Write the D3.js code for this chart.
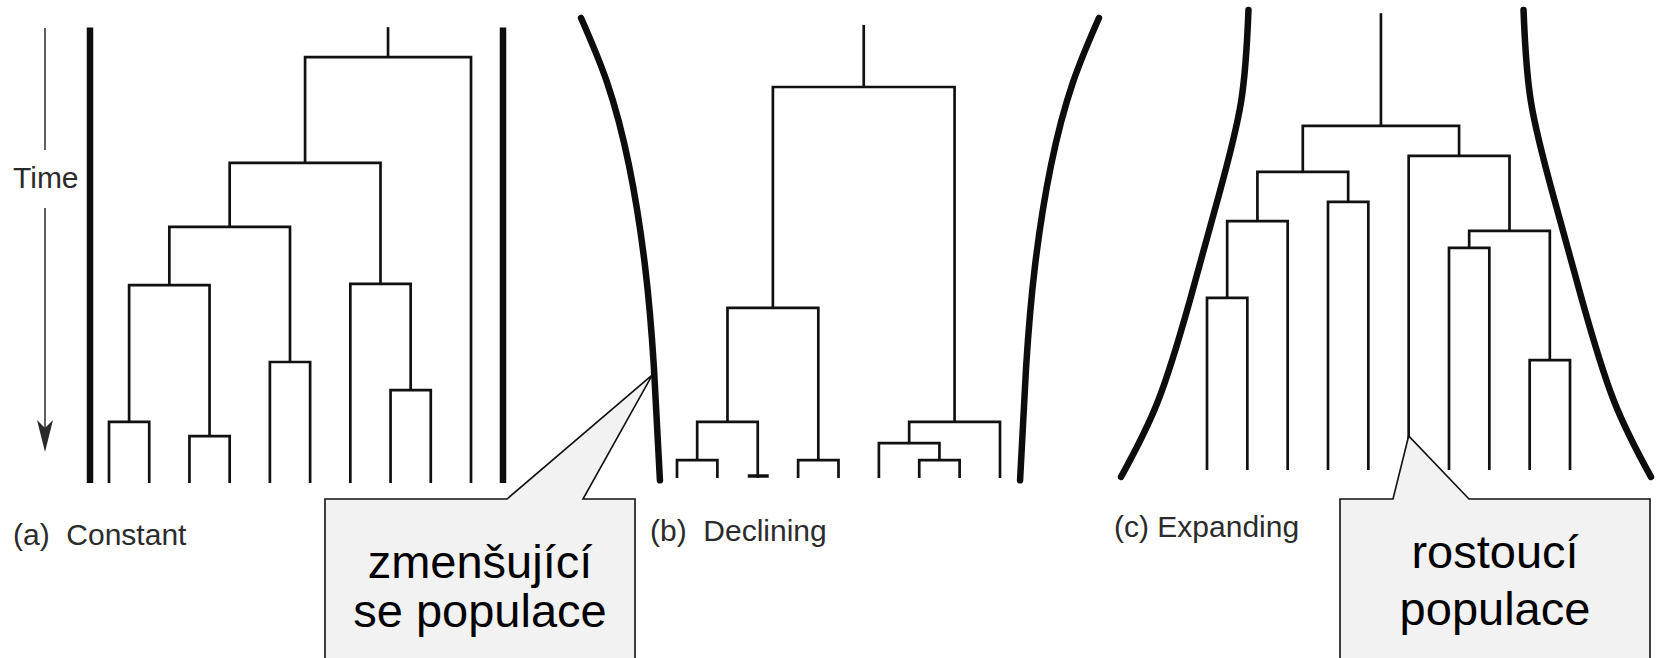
<!DOCTYPE html>
<html>
<head>
<meta charset="utf-8">
<script src="https://cdn.jsdelivr.net/npm/d3@7"></script>
<style>
html,body{margin:0;padding:0;background:#fff;overflow:hidden}
text{font-family:"Liberation Sans",Arial,Helvetica,sans-serif}
</style>
</head>
<body>
<svg id="chart" width="1662" height="658"></svg>
<script>
// ---------------- DATA ----------------
const panelIds = ["a", "b", "c"];
const panelLabels = ["(a)\u00A0 Constant", "(b)\u00A0 Declining", "(c) Expanding"];
const tipCounts = [10, 9, 10];

// coalescence events: [left child, right child, time before present]
// tips are "t#", internal nodes "n#" in the order listed
const mergesA = [
  ["t0", "t1", 13.3],
  ["t2", "t3", 10.2],
  ["t4", "t5", 26.3],
  ["t7", "t8", 20.2],
  ["n0", "n1", 43.0],
  ["t6", "n3", 43.3],
  ["n4", "n2", 55.7],
  ["n6", "n5", 69.6],
  ["n7", "t9", 92.6]
];
const mergesB = [
  ["t0", "t1", 3.9],
  ["n0", "t2", 12.2],
  ["t3", "t4", 3.9],
  ["n1", "n2", 37.0],
  ["t6", "t7", 3.9],
  ["t5", "n4", 7.6],
  ["n5", "t8", 12.2],
  ["n3", "n6", 85.0]
];
const mergesC = [
  ["t0", "t1", 37.4],
  ["n0", "t2", 54.1],
  ["t3", "t4", 58.3],
  ["n1", "n2", 64.8],
  ["t6", "t7", 48.3],
  ["t8", "t9", 23.9],
  ["n4", "n5", 52.0],
  ["t5", "n6", 68.3],
  ["n3", "n7", 74.8]
];
const rootStemTimes = [99.1, 98.5, 99.3];
const footTipsB = [2];            // lineage in (b) drawn with a small foot

// population size through time (boundary of the population)
const boundaryTimesA = [0, 99];
const boundarySizeA  = [100, 100];
const boundaryTimesB = [-0.5, 24, 46, 68, 86, 100];
const boundarySizeB  = [87.2, 90.1, 94.4, 102.2, 112.8, 125.4];
const boundaryTimesC = [-1.5, 15, 37, 59, 80, 100];
const boundarySizeC  = [128.3, 110.4, 94.9, 81.4, 70.2, 66.6];

const calloutLines = [["zmenšující", "se populace"], ["rostoucí", "populace"]];
const timeLabel = "Time";

// ---------------- LAYOUT ----------------
const W = 1662, H = 658;
const layout = [
  {tipRange: [109, 471],  center: 296.5, base: 483, labelX: 13,   labelY: 545},
  {tipRange: [677, 1000], center: 840,   base: 478, labelX: 650,  labelY: 541},
  {tipRange: [1207, 1570],center: 1386,  base: 470, labelX: 1114, labelY: 537}
];
const pxPerUnit = 4.6;
const sizeScale = d3.scaleLinear().domain([0, 100]).range([0, 206.5]);

const svg = d3.select("#chart");
svg.append("rect").attr("width", W).attr("height", H).attr("fill", "#fff");

const merges = [mergesA, mergesB, mergesC];
const bTimes = [boundaryTimesA, boundaryTimesB, boundaryTimesC];
const bSizes = [boundarySizeA, boundarySizeB, boundarySizeC];

const panels = panelIds.map((id, p) => {
  const L = layout[p];
  const n = tipCounts[p];
  const x = d3.scaleLinear().domain([0, n - 1]).range(L.tipRange);
  const y = d3.scaleLinear().domain([0, 100]).range([L.base, L.base - 100 * pxPerUnit]);
  const nodes = {};
  d3.range(n).forEach(i => nodes["t" + i] = {x: x(i), t: 0});
  let root = null;
  merges[p].forEach((m, k) => {
    const l = nodes[m[0]], r = nodes[m[1]];
    const node = {x: (l.x + r.x) / 2, t: m[2], l, r};
    nodes["n" + k] = node;
    root = node;
  });
  return {id, p, L, x, y, nodes, root};
});

// ---------------- DRAW ----------------
const g = svg.append("g");

// boundaries
panels.forEach(P => {
  const ts = bTimes[P.p], ss = bSizes[P.p];
  const pts = ts.map((t, i) => ({t, s: ss[i]}));
  [-1, 1].forEach(side => {
    const line = d3.line()
      .x(d => P.L.center + side * sizeScale(d.s))
      .y(d => P.y(d.t))
      .curve(d3.curveNatural);
    g.append("path")
      .attr("d", line(pts))
      .attr("fill", "none")
      .attr("stroke", "#0d0d0d")
      .attr("stroke-width", 6.5)
      .attr("stroke-linecap", P.p === 0 ? "butt" : "round");
  });
});

// trees
panels.forEach(P => {
  const y = P.y;
  const internal = Object.keys(P.nodes).filter(k => k[0] === "n").map(k => P.nodes[k]);
  internal.forEach(nd => {
    const d = `M${nd.l.x},${y(nd.l.t)}V${y(nd.t)}H${nd.r.x}V${y(nd.r.t)}`;
    g.append("path").attr("d", d)
      .attr("fill", "none").attr("stroke", "#111")
      .attr("stroke-width", 2.7).attr("stroke-linejoin", "miter");
  });
  g.append("path")
    .attr("d", `M${P.root.x},${y(P.root.t)}V${y(rootStemTimes[P.p])}`)
    .attr("stroke", "#111").attr("stroke-width", 2.7);
});

// foot marks
footTipsB.forEach(i => {
  const P = panels[1];
  const xx = P.x(i), yy = P.y(0) - 2;
  g.append("path").attr("d", `M${xx - 10},${yy}H${xx + 11}`)
    .attr("stroke", "#111").attr("stroke-width", 3.5);
});

// panel labels
panels.forEach(P => {
  svg.append("text")
    .attr("x", P.L.labelX).attr("y", P.L.labelY)
    .attr("font-size", 30).attr("fill", "#2b2b2b")
    .text(panelLabels[P.p]);
});

// time arrow
const ax = 45;
svg.append("path").attr("d", `M${ax},28V150M${ax},208V440`)
  .attr("stroke", "#3a3a3a").attr("stroke-width", 1.6).attr("fill", "none");
svg.append("path").attr("d", `M${ax},452L${ax - 8},420L${ax},428L${ax + 8},420Z`)
  .attr("fill", "#2a2a2a");
svg.append("text").attr("x", 13).attr("y", 188)
  .attr("font-size", 30).attr("fill", "#2b2b2b").text(timeLabel);

// callouts
function interp(ts, ss, t) {
  return d3.scaleLinear().domain(ts).range(ss)(t);
}
const Pb = panels[1], Pc = panels[2];
const anchorBt = 22.4;
const anchor1 = {
  x: Pb.L.center - sizeScale(interp(boundaryTimesB, boundarySizeB, anchorBt)) - 2,
  y: Pb.y(anchorBt)
};
const anchorCt = 7.4;
const anchor2 = {x: Pc.nodes["t5"].x, y: Pc.y(anchorCt)};

const callouts = [
  {x0: 325, x1: 635, top: 499, b0: 507, b1: 583, tip: anchor1, cx: 480, ys: [578, 627], lines: calloutLines[0]},
  {x0: 1340, x1: 1650, top: 499, b0: 1393, b1: 1469, tip: anchor2, cx: 1495, ys: [568, 625], lines: calloutLines[1]}
];
callouts.forEach(c => {
  const bottom = H + 10;
  const d = `M${c.x0},${c.top}H${c.b0}L${c.tip.x},${c.tip.y}L${c.b1},${c.top}H${c.x1}V${bottom}H${c.x0}Z`;
  svg.append("path").attr("d", d)
    .attr("fill", "#f2f2f2").attr("stroke", "#111").attr("stroke-width", 1.6)
    .attr("stroke-linejoin", "miter");
  c.lines.forEach((t, i) => {
    svg.append("text").attr("x", c.cx).attr("y", c.ys[i])
      .attr("text-anchor", "middle").attr("font-size", 47).attr("fill", "#000")
      .text(t);
  });
});
</script>
</body>
</html>
